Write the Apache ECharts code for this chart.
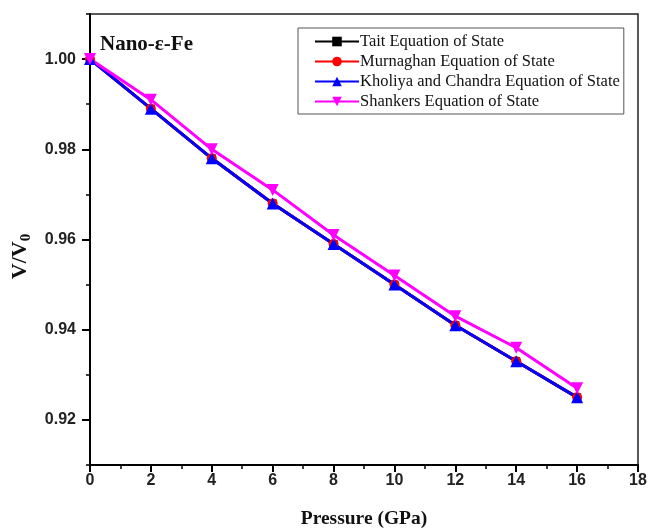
<!DOCTYPE html>
<html>
<head>
<meta charset="utf-8">
<script src="https://cdn.jsdelivr.net/npm/echarts@6/dist/echarts.min.js"></script>
<style>
  html, body { margin: 0; padding: 0; background: #fff; }
  #chart { width: 651px; height: 528px; }
</style>
</head>
<body>
<div id="chart"></div>
<script>
// pressure (GPa)
var pressure = [0, 2, 4, 6, 8, 10, 12, 14, 16];
// V/V0 for each equation of state
var tait      = [1.000, 0.989, 0.978, 0.968, 0.959, 0.950, 0.941, 0.933, 0.925];
var murnaghan = [1.000, 0.989, 0.978, 0.968, 0.959, 0.950, 0.941, 0.933, 0.925];
var kholiya   = [1.000, 0.989, 0.978, 0.968, 0.959, 0.950, 0.941, 0.933, 0.925];
var shankers  = [1.000, 0.991, 0.980, 0.971, 0.961, 0.952, 0.943, 0.936, 0.927];

var xTicks = [0, 2, 4, 6, 8, 10, 12, 14, 16, 18];
var xMinorTicks = [1, 3, 5, 7, 9, 11, 13, 15, 17];
var yTicks = [0.92, 0.94, 0.96, 0.98, 1.00];
var yMinorTicks = [0.91, 0.93, 0.95, 0.97, 0.99, 1.01];

function pairs(ys) {
    return pressure.map(function (p, i) { return [p, ys[i]]; });
}

var myChart = echarts.init(document.getElementById('chart'));

var labelFont = {
    color: '#222',
    fontFamily: 'Liberation Sans',
    fontWeight: 'bold',
    fontSize: 16
};

function makeSeries(name, data, color, symbol, size, rotate) {
    return {
        name: name,
        type: 'line',
        data: pairs(data),
        symbol: symbol,
        symbolSize: size,
        symbolRotate: rotate || 0,
        showAllSymbol: true,
        lineStyle: { color: color, width: 3 },
        itemStyle: { color: color },
        emphasis: { disabled: true }
    };
}

myChart.setOption({
    animation: false,
    title: {
        text: 'Nano-ε-Fe',
        left: 95,
        top: 29,
        textStyle: {
            fontFamily: 'Liberation Serif',
            fontWeight: 'bold',
            fontSize: 21,
            color: '#111'
        }
    },
    legend: {
        orient: 'vertical',
        left: 298,
        top: 28,
        padding: [5, 4, 4, 16],
        itemGap: 3,
        itemWidth: 44,
        itemHeight: 12,
        borderColor: '#555',
        borderWidth: 1,
        textStyle: {
            fontFamily: 'Liberation Serif',
            fontSize: 16.5,
            color: '#111',
            padding: [0, 0, 0, -4]
        },
        data: ['Tait Equation of State', 'Murnaghan Equation of State',
               'Kholiya and Chandra Equation of State', 'Shankers Equation of State']
    },
    grid: {
        left: 90,
        right: 13,
        top: 14,
        bottom: 63,
        outerBoundsMode: 'none',
        containLabel: false,
        show: true,
        borderColor: '#222',
        borderWidth: 1.5
    },
    xAxis: [{
        type: 'value',
        min: 0,
        max: 18,
        name: 'Pressure (GPa)',
        nameLocation: 'middle',
        nameGap: 44,
        nameTextStyle: {
            fontFamily: 'Liberation Serif',
            fontWeight: 'bold',
            fontSize: 19.5,
            color: '#111'
        },
        axisLine: { lineStyle: { color: '#000', width: 2 } },
        axisTick: { customValues: xTicks, length: 7, lineStyle: { color: '#000', width: 2 } },
        axisLabel: Object.assign({ customValues: xTicks, margin: 8 }, labelFont),
        splitLine: { show: false }
    }, {
        type: 'value',
        min: 0,
        max: 18,
        position: 'bottom',
        axisLine: { show: false },
        axisTick: { customValues: xMinorTicks, length: 4, lineStyle: { color: '#000', width: 1.5 } },
        axisLabel: { show: false },
        splitLine: { show: false }
    }],
    yAxis: [{
        type: 'value',
        min: 0.91,
        max: 1.01,
        name: 'V/V{sub|0}',
        nameLocation: 'middle',
        nameGap: 56,
        nameRotate: 90,
        nameTextStyle: {
            fontFamily: 'Liberation Serif',
            fontWeight: 'bold',
            fontSize: 22,
            color: '#111',
            padding: [0, 34, 0, 0],
            rich: {
                sub: {
                    fontFamily: 'Liberation Serif',
                    fontWeight: 'bold',
                    fontSize: 15,
                    color: '#111',
                    verticalAlign: 'bottom',
                    padding: [12, 0, 0, 0]
                }
            }
        },
        axisLine: { lineStyle: { color: '#000', width: 2 } },
        axisTick: { customValues: yTicks, length: 8, lineStyle: { color: '#000', width: 2 } },
        axisLabel: Object.assign({
            customValues: yTicks,
            margin: 14,
            formatter: function (v) { return v.toFixed(2); }
        }, labelFont),
        splitLine: { show: false }
    }, {
        type: 'value',
        min: 0.91,
        max: 1.01,
        position: 'left',
        axisLine: { show: false },
        axisTick: { customValues: yMinorTicks, length: 4, lineStyle: { color: '#000', width: 1.5 } },
        axisLabel: { show: false },
        splitLine: { show: false }
    }],
    series: [
        makeSeries('Tait Equation of State', tait, '#000000', 'rect', 8),
        makeSeries('Murnaghan Equation of State', murnaghan, '#ff0000', 'circle', 10),
        makeSeries('Kholiya and Chandra Equation of State', kholiya, '#0000ff', 'triangle', 12),
        makeSeries('Shankers Equation of State', shankers, '#ff00ff', 'triangle', 12, 180)
    ]
});
</script>
</body>
</html>
